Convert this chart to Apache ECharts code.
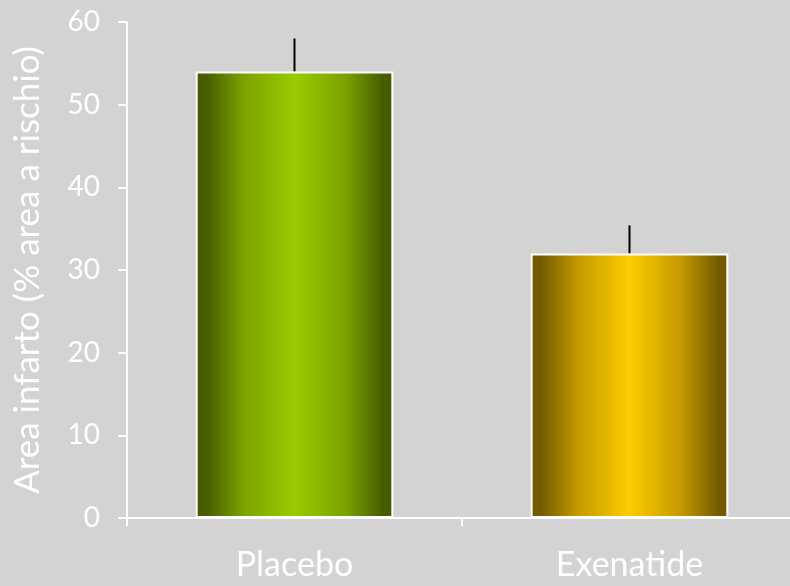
<!DOCTYPE html>
<html><head><meta charset="utf-8">
<script src="https://cdn.jsdelivr.net/npm/echarts@6/dist/echarts.min.js"></script>
<style>html,body{margin:0;padding:0;background:#d3d3d3}#c{width:790px;height:586px}</style>
</head><body><div id="c"></div>
<script>
const categories = ['Placebo', 'Exenatide'];
const values = [54, 32];
const errorTops = [58, 35.4];
const yTicks = [0, 10, 20, 30, 40, 50, 60];

const gradients = [
  ['#475c00', '#7aa200', '#99cc00'],
  ['#735a00', '#c49a00', '#ffcc00']
];
function grad(c) {
  return new echarts.graphic.LinearGradient(0, 0, 1, 0, [
    {offset: 0, color: c[0]}, {offset: 0.05, color: c[0]},
    {offset: 0.24, color: c[1]}, {offset: 0.5, color: c[2]},
    {offset: 0.76, color: c[1]},
    {offset: 0.95, color: c[0]}, {offset: 1, color: c[0]}
  ]);
}
const chart = echarts.init(document.getElementById('c'));
const font = 'Lato, "DejaVu Sans", sans-serif';
chart.setOption({
  backgroundColor: '#d3d3d3',
  animation: false,
  grid: {left: 127, right: -7, top: 22, bottom: 68, containLabel: false, outerBoundsMode: 'none'},
  xAxis: {
    type: 'category', data: categories,
    axisLine: {lineStyle: {color: '#fff', width: 2}},
    axisTick: {show: true, length: 8, lineStyle: {color: '#fff', width: 2}},
    axisLabel: {color: '#fff', fontSize: 34, fontFamily: font, margin: 30}
  },
  yAxis: {
    type: 'value', min: yTicks[0], max: yTicks[yTicks.length - 1], interval: 10,
    name: 'Area infarto (% area a rischio)', nameLocation: 'middle', nameGap: 82,
    nameTextStyle: {color: '#fff', fontSize: 35, fontFamily: font},
    axisLine: {show: true, lineStyle: {color: '#fff', width: 2}},
    axisTick: {show: true, length: 9, lineStyle: {color: '#fff', width: 2}},
    axisLabel: {color: '#fff', fontSize: 28, fontFamily: font, margin: 27},
    splitLine: {show: false}
  },
  series: [
    {
      type: 'bar', barWidth: '59%',
      data: values.map((v, i) => ({value: v, itemStyle: {color: grad(gradients[i])}})),
      itemStyle: {borderColor: '#fff', borderWidth: 2}
    },
    {
      type: 'custom', z: 1,
      data: values.map((v, i) => [i, v, errorTops[i]]),
      renderItem: function (params, api) {
        const p1 = api.coord([api.value(0), api.value(1)]);
        const p2 = api.coord([api.value(0), api.value(2)]);
        return {type: 'line', shape: {x1: p1[0], y1: p1[1], x2: p2[0], y2: p2[1]},
          style: {stroke: '#000', lineWidth: 2}};
      }
    }
  ]
});
</script></body></html>
